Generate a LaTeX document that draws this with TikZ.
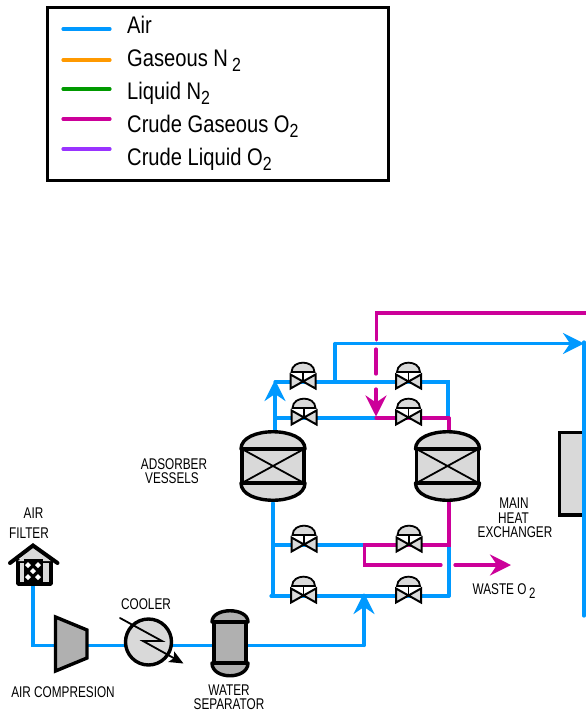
\documentclass[tikz,border=0pt]{standalone}
\usepackage{fontspec}
\setmainfont{Liberation Sans}[FakeStretch=0.84]
\newfontfamily\tagfont{Liberation Sans}[FakeStretch=0.76]
\usepackage{tkz-euclide}
\usetikzlibrary{arrows.meta}
\definecolor{airblue}{HTML}{0099FF}
\definecolor{gasorange}{HTML}{FF9900}
\definecolor{liqgreen}{HTML}{009900}
\definecolor{crudemagenta}{HTML}{CC0099}
\definecolor{crudepurple}{HTML}{9933FF}
\definecolor{shell}{HTML}{D9D9D9}
\definecolor{steel}{HTML}{B0B0B0}
\tikzset{
  airline/.style={airblue, line width=3.2pt, line join=miter},
  crudeline/.style={crudemagenta, line width=3.2pt, line join=miter},
  flowtip/.style={-{Stealth[length=21pt, width=21pt, inset=7pt]}},
  outline/.style={black, line width=3.4pt, line join=round},
  legendtext/.style={anchor=base west, inner sep=0pt, font=\fontsize{24}{26}\selectfont},
  tagtext/.style={inner sep=0pt, font=\tagfont\fontsize{15.5}{17}\selectfont},
}
\newcommand{\subtwo}{\raisebox{-0.45ex}{\fontsize{19}{19}\selectfont 2}}
\newcommand{\smallsubtwo}{\raisebox{-0.4ex}{\fontsize{15}{15}\selectfont 2}}
% valve symbol, centred on the pipe
\newcommand{\drawvalve}[2]{%
  \begin{scope}[shift={(#1,#2)}]
    \draw[black, line width=1.8pt] (0,0) -- (0,-9.5);
    \draw[black, line width=1.8pt, fill=shell] (-11.5,-9.5) .. controls (-11,-22) and (11,-22) .. (11.5,-9.5) -- cycle;
    \draw[black, line width=2pt, line join=miter, fill=shell] (-12.5,-7) -- (12.5,7) -- (12.5,-7) -- (-12.5,7) -- cycle;
  \end{scope}}
% adsorber vessel, centred on the body
\newcommand{\drawvessel}[2]{%
  \begin{scope}[shift={(#1,#2)}]
    \draw[outline, fill=shell] (-32,-17) .. controls (-32,-40) and (32,-40) .. (32,-17) -- cycle;
    \draw[outline, fill=shell] (-32,17) .. controls (-32,40) and (32,40) .. (32,17) -- cycle;
    \draw[outline, fill=shell] (-31,-17) rectangle (31,17);
    \draw[black, line width=1.8pt] (-31,-17) -- (31,17) (-31,17) -- (31,-17);
  \end{scope}}
\begin{document}
\begin{tikzpicture}[x=1pt, y=-1pt]
  \useasboundingbox (0,0) rectangle (586,712);
  % legend
  \draw[black, line width=3.6pt] (47.5,7.5) rectangle (388.5,180.5);
  \tkzDefPoints{63/29/La, 110/29/Lb, 63/60/Lc, 110/60/Ld, 63/89/Le, 110/89/Lf, 63/119/Lg, 110/119/Lh, 63/149/Li, 110/149/Lj}
  \tkzDrawSegment[airline](La,Lb)
  \tkzDrawSegment[gasorange, line width=3.2pt](Lc,Ld)
  \tkzDrawSegment[liqgreen, line width=3.2pt](Le,Lf)
  \tkzDrawSegment[crudeline](Lg,Lh)
  \tkzDrawSegment[crudepurple, line width=3.2pt](Li,Lj)
  \node[legendtext] (airtxt) at (127,33.5) {Air};
  \node[legendtext] (gasntxt) at (127,66) {Gaseous N\,\subtwo};
  \node[legendtext] (liqntxt) at (127,99) {Liquid N\subtwo};
  \node[legendtext] (gasotxt) at (127,132) {Crude Gaseous O\subtwo};
  \node[legendtext] (liqotxt) at (127,165) {Crude Liquid O\subtwo};
  % heat exchanger
  \draw[outline, line join=miter, fill=shell] (584,432.5) -- (559.5,432.5) -- (559.5,515) -- (584,515);
  % air pipes
  \tkzDefPoints{33/586/A, 33/645.5/B, 60/645.5/C, 364/645.5/D, 364/593/E}
  \tkzDefPoints{271/596/F, 449/596/G, 449/545/H, 273/503/I, 273/596/J, 273/545/K, 363/545/L}
  \tkzDefPoints{275/430/M, 275/382/N, 275/380/Na, 448/382/O, 448/418/P, 275/418/Q, 376/418/R}
  \tkzDefPoints{335/382/S, 335/343.5/T, 584/343.5/U, 584/342/Ua, 584/616/V}
  \tkzDrawPolySeg[airline](A,B,C,D)
  \tkzDrawSegment[airline, flowtip](D,E)
  \tkzDrawSegments[airline](F,G G,H I,J K,L)
  \tkzDrawSegment[airline, flowtip](M,Na)
  \tkzDrawPolySeg[airline](N,O,P)
  \tkzDrawSegment[airline](Q,R)
  \tkzDrawSegment[airline](S,T)
  \tkzDrawSegment[airline, flowtip](T,U)
  \tkzDrawSegment[airline](Ua,V)
  % crude oxygen pipes
  \tkzDefPoints{586/313/a, 376.5/313/b, 376.5/340/c, 376/349/d, 376/374/e, 376/389/f, 376/416.5/g}
  \tkzDefPoints{449/418/h, 449/431/i, 449/500/j, 449/545/k, 364.5/545/l, 364.5/565/m, 441/565/n, 455/565/o, 511/565/p}
  \tkzDrawPolySeg[crudeline](a,b,c)
  \tkzDrawSegment[crudeline](d,e)
  \tkzDrawSegment[crudeline, flowtip](f,g)
  \tkzDrawSegment[crudeline](R,h)
  \tkzDrawSegment[crudeline](h,i)
  \tkzDrawPolySeg[crudeline](j,k,l,m,n)
  \tkzDrawSegment[crudeline, flowtip](o,p)
  % valves
  \drawvalve{303}{381.5}
  \drawvalve{408.5}{381.5}
  \drawvalve{304}{417.5}
  \drawvalve{408.5}{417.5}
  \drawvalve{304}{544.5}
  \drawvalve{409}{544.5}
  \drawvalve{303.5}{595.5}
  \drawvalve{408.5}{595.5}
  % vessels
  \drawvessel{273}{466}
  \drawvessel{447.5}{466}
  % air filter
  \draw[outline, fill=shell] (18,561) rectangle (51,584);
  \fill[shell] (18,561) -- (33,546) -- (51,561) -- cycle;
  \draw[black, line width=4pt, line cap=round, line join=miter] (10,563) -- (33,545.5) -- (57.5,563);
  \fill[black] (23.5,559) rectangle (42.5,582);
  \fill[white] (28,562) -- (31,565) -- (28,568) -- (25,565) -- cycle;
  \fill[white] (38,562) -- (41,565) -- (38,568) -- (35,565) -- cycle;
  \fill[white] (33,568) -- (36,571) -- (33,574) -- (30,571) -- cycle;
  \fill[white] (28,574) -- (31,577) -- (28,580) -- (25,577) -- cycle;
  \fill[white] (38,574) -- (41,577) -- (38,580) -- (35,577) -- cycle;
  % compressor
  \draw[outline, line join=miter, fill=steel] (55.5,617) -- (87,630) -- (87,658) -- (55.5,671) -- cycle;
  % cooler
  \draw[outline, fill=shell] (148.5,642) circle (23);
  \tkzDefPoints{120/618/q, 162/641/r, 143/641/s, 183.5/663.5/t}
  \tkzDrawPolySeg[black, line width=1.8pt, -{Stealth[length=14pt, width=12pt, inset=3pt]}](q,r,s,t)
  % water separator
  \draw[outline, fill=steel] (212,622) .. controls (212,607) and (248,607) .. (248,622) -- cycle;
  \draw[outline, fill=steel] (212,663) .. controls (212,680) and (248,680) .. (248,663) -- cycle;
  \draw[outline, fill=steel] (214,622) rectangle (246,663);
  % labels
  \node[tagtext] (adsorbertxt) at (174,464) {ADSORBER};
  \node[tagtext] (vesselstxt) at (172,478) {VESSELS};
  \node[tagtext] (airfiltertxt) at (33.5,513) {AIR};
  \node[tagtext] (filtertxt) at (29,533) {FILTER};
  \node[tagtext] (coolertxt) at (146,604) {COOLER};
  \node[tagtext] (compresstxt) at (63,692) {AIR COMPRESION};
  \node[tagtext] (watertxt) at (229,690) {WATER};
  \node[tagtext] (separatortxt) at (229,704.5) {SEPARATOR};
  \node[tagtext] (maintxt) at (514,503) {MAIN};
  \node[tagtext] (heattxt) at (513.5,518) {HEAT};
  \node[tagtext] (exchangertxt) at (515,532) {EXCHANGER};
  \node[tagtext] (wastetxt) at (504,591) {WASTE O\,\smallsubtwo};
\end{tikzpicture}
\end{document}
